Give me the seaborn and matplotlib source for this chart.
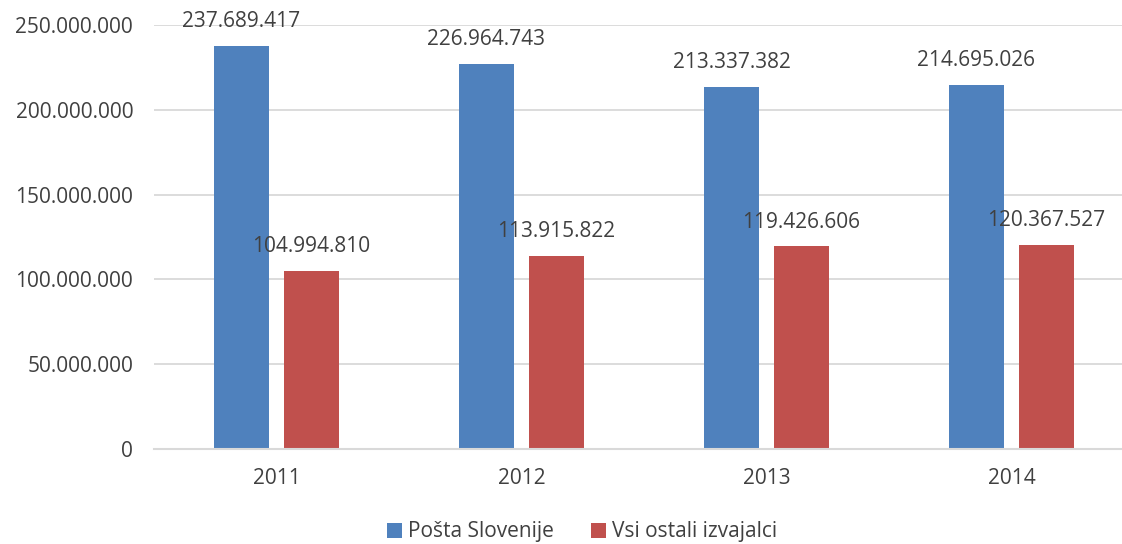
import matplotlib
matplotlib.use("Agg")
import matplotlib.pyplot as plt
import seaborn as sns
import pandas as pd
from matplotlib.ticker import FuncFormatter
from matplotlib.patches import Patch

years = ["2011", "2012", "2013", "2014"]
series_names = ["Pošta Slovenije", "Vsi ostali izvajalci"]
posta = [237689417, 226964743, 213337382, 214695026]
ostali = [104994810, 113915822, 119426606, 120367527]
colors = ["#4F81BD", "#C0504D"]

df = pd.DataFrame({
    "year": years * 2,
    "series": [series_names[0]] * 4 + [series_names[1]] * 4,
    "value": posta + ostali,
})

sns.set_theme(style="white")
plt.rcParams["font.family"] = ["Open Sans", "DejaVu Sans"]
txt = "#404040"
fs = 15

fig = plt.figure(figsize=(11.22, 5.44), dpi=100)
ax = fig.add_axes([154/1122, 95/544, 980/1122, 424/544])

sns.barplot(data=df, x="year", y="value", hue="series", palette=colors,
            width=0.572, gap=0.217, ax=ax, legend=False, saturation=1,
            edgecolor="none", linewidth=0)

def fmt(v, pos=None):
    return f"{int(round(v)):,}".replace(",", ".")

for cont in ax.containers:
    ax.bar_label(cont, labels=[fmt(b.get_height()) for b in cont],
                 padding=10, fontsize=fs, color=txt)

ax.set_ylim(0, 250000000)
ax.set_xlim(-0.5, 3.5)
ax.set_yticks(range(0, 250000001, 50000000))
ax.yaxis.set_major_formatter(FuncFormatter(fmt))
ax.grid(axis="y", color="#D9D9D9", linewidth=1.3)
ax.set_axisbelow(True)
for s in ["top", "right", "left"]:
    ax.spines[s].set_visible(False)
ax.spines["bottom"].set_color("#D9D9D9")
ax.spines["bottom"].set_linewidth(1.5)
ax.tick_params(axis="both", length=0, labelsize=fs, colors=txt)
ax.tick_params(axis="y", pad=15)
ax.tick_params(axis="x", pad=14)
ax.set_xlabel("")
ax.set_ylabel("")

handles = [Patch(facecolor=c, edgecolor="none") for c in colors]
fig.legend(handles, series_names, loc="center", bbox_to_anchor=(582/1122, 12/544),
           ncol=2, frameon=False, fontsize=fs, handlelength=0.7, handleheight=0.7,
           handletextpad=0.3, columnspacing=1.8, labelcolor=txt)

fig.savefig("out.png", dpi=100)
